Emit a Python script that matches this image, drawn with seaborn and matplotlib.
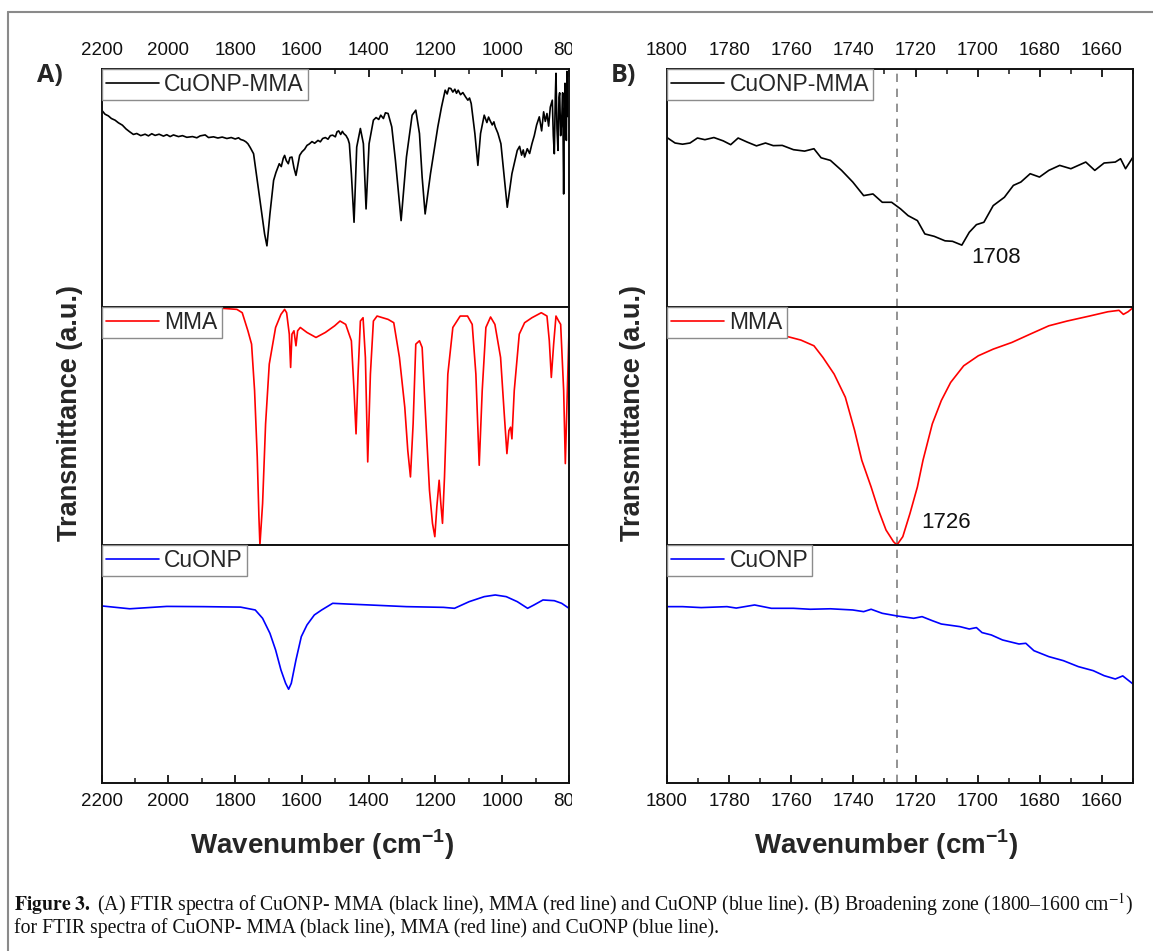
import matplotlib
matplotlib.use("Agg")
import matplotlib.pyplot as plt
import seaborn as sns
import pandas as pd
from matplotlib.ticker import MultipleLocator
from matplotlib.transforms import Bbox, TransformedBbox
from matplotlib.lines import Line2D

# ---------------- data ----------------
A_black_wn = [2200, 2190, 2180, 2171, 2160, 2150, 2138, 2127, 2116, 2105, 2095, 2083, 2070, 2060, 2050, 2040,
              2028, 2015, 2005, 1995, 1985, 1970, 1958, 1945, 1928, 1915, 1905, 1890, 1880, 1865, 1852, 1839,
              1825, 1812, 1800, 1790, 1784, 1775, 1768, 1762, 1755, 1745, 1734, 1723, 1712, 1705, 1696, 1690,
              1685, 1678, 1672, 1668, 1662, 1656, 1652, 1647, 1641, 1636, 1630, 1624, 1618, 1612, 1607, 1600,
              1592, 1585, 1578, 1570, 1562, 1552, 1545, 1538, 1530, 1522, 1515, 1508, 1500, 1495, 1490, 1484,
              1479, 1475, 1468, 1462, 1458, 1452, 1444, 1436, 1425, 1416, 1408, 1399, 1386, 1378, 1370, 1364,
              1356, 1350, 1342, 1331, 1320, 1303, 1287, 1270, 1259, 1248, 1240, 1231, 1215, 1193, 1182, 1171,
              1165, 1160, 1154, 1148, 1142, 1137, 1132, 1125, 1118, 1110, 1103, 1098, 1093, 1082, 1073, 1065,
              1054, 1046, 1041, 1037, 1030, 1025, 1021, 1013, 1004, 993, 985, 971, 955, 948, 942, 937, 933,
              925, 918, 911, 904, 897, 889, 882, 876, 871, 866, 861, 856, 850, 847, 844, 841, 839, 836, 833,
              830, 828, 825, 822, 819, 816, 814, 812, 810, 808, 806, 805, 803, 800]
A_black_t = [82.7, 81.0, 80.3, 79.2, 78.5, 77.4, 76.4, 74.8, 73.6, 72.5, 72.9, 72.0, 72.6, 71.9, 72.8, 72.1,
             72.6, 71.8, 72.4, 71.6, 72.3, 71.6, 72.0, 71.3, 71.6, 71.1, 71.9, 72.3, 71.2, 71.5, 71.0, 71.4,
             70.8, 71.2, 70.6, 71.1, 70.4, 70.0, 69.4, 68.6, 67.0, 64.4, 53.2, 41.9, 30.7, 25.7, 39.1, 47.0,
             53.2, 56.5, 58.8, 60.2, 59.0, 62.5, 63.7, 61.5, 60.2, 62.8, 63.0, 58.5, 55.3, 60.0, 63.7, 65.2,
             66.3, 67.9, 68.5, 69.5, 68.8, 70.0, 69.4, 70.8, 71.2, 70.5, 72.0, 72.2, 71.5, 73.6, 74.0, 72.5,
             73.8, 72.9, 72.0, 70.5, 68.6, 56.0, 35.6, 67.2, 75.0, 68.6, 41.2, 68.6, 78.5, 79.6, 78.8, 80.6,
             79.2, 81.6, 81.3, 75.7, 61.6, 36.3, 63.0, 80.6, 82.7, 72.9, 54.6, 39.1, 56.0, 75.7, 84.0, 91.1,
             89.5, 92.0, 91.8, 90.3, 91.5, 89.8, 91.1, 89.2, 90.1, 88.3, 86.9, 87.8, 85.5, 72.9, 59.5, 72.9,
             80.6, 77.5, 79.8, 78.5, 76.5, 77.8, 75.7, 73.0, 68.6, 53.2, 41.9, 56.0, 65.8, 67.5, 63.8, 66.0, 63.0,
             66.5, 64.5, 68.6, 72.0, 76.5, 79.9, 74.0, 82.0, 78.0, 81.3, 76.0, 84.0, 86.9, 72.0, 64.4, 88.0, 98.2,
             75.0, 65.8, 88.0, 90.0, 72.0, 78.0, 90.0, 47.5, 80.0, 94.0, 85.0, 70.0, 99.0, 96.0, 80.0, 86.0]

A_red_wn = [2200, 1900, 1834, 1795, 1779, 1762, 1751, 1742, 1734, 1729, 1726, 1718, 1709, 1698, 1679, 1663,
            1652, 1646, 1638, 1634, 1630, 1624, 1618, 1613, 1605, 1585, 1558, 1530, 1502, 1486, 1469, 1452,
            1444, 1438, 1432, 1425, 1417, 1410, 1403, 1395, 1386, 1375, 1342, 1325, 1308, 1292, 1283, 1275,
            1267, 1259, 1248, 1240, 1231, 1218, 1209, 1202, 1196, 1189, 1184, 1179, 1173, 1163, 1148, 1126,
            1104, 1090, 1079, 1069, 1060, 1049, 1035, 1022, 1005, 994, 986, 980, 975, 971, 964, 949, 933,
            911, 883, 866, 859, 853, 846, 839, 831, 825, 816, 811, 805, 800]
A_red_t = [99.0, 99.0, 99.4, 99.0, 97.6, 90.0, 84.4, 64.9, 37.0, 11.9, 0.0, 17.4, 50.9, 76.0, 91.4, 96.9,
           99.0, 97.6, 88.6, 74.6, 88.6, 90.0, 83.7, 90.0, 91.4, 89.3, 87.2, 89.3, 92.1, 94.1, 92.7, 85.8,
           64.9, 46.7, 71.8, 94.1, 95.5, 78.8, 34.9, 71.8, 94.1, 96.2, 94.8, 93.4, 78.8, 57.9, 39.7, 28.6,
           50.9, 84.4, 85.8, 83.0, 57.9, 23.0, 9.1, 3.5, 16.0, 27.2, 17.4, 9.1, 28.6, 71.8, 91.4, 96.2,
           96.2, 92.7, 71.8, 33.5, 64.9, 91.4, 95.8, 92.7, 78.8, 55.1, 38.4, 48.1, 49.5, 44.6, 64.9, 88.6, 93.4,
           95.5, 97.6, 96.2, 85.8, 70.4, 84.4, 96.2, 94.1, 92.7, 64.9, 34.2, 64.9, 90.0]

A_blue_wn = [2200, 2116, 2005, 1895, 1784, 1740, 1718, 1696, 1679, 1663, 1649, 1640, 1632, 1618, 1602, 1585,
             1563, 1541, 1508, 1464, 1397, 1287, 1176, 1143, 1099, 1054, 1021, 988, 955, 924, 905, 878,
             844, 822, 800]
A_blue_t = [74.4, 73.2, 74.2, 74.1, 73.9, 72.7, 69.2, 62.9, 55.9, 47.5, 41.9, 39.4, 41.9, 51.7, 61.5, 66.4,
            70.6, 72.7, 75.5, 75.2, 74.8, 74.1, 73.8, 73.4, 76.2, 78.3, 79.0, 78.3, 76.2, 73.4, 74.8, 76.9,
            76.6, 75.5, 73.4]

B_black_wn = [1800, 1797.4, 1795, 1792.6, 1790.2, 1787.8, 1784.9, 1781.9, 1779.5, 1777.1, 1774.2, 1771.2,
              1768.3, 1765.8, 1762.9, 1759.3, 1755.7, 1752.7, 1750.4, 1747.4, 1743.8, 1740.2, 1736.7, 1733.7,
              1730.7, 1727.7, 1724.8, 1722.4, 1719.4, 1717.0, 1714.0, 1710.5, 1708.1, 1705.1, 1702.7, 1700.4,
              1698.0, 1695.0, 1691.4, 1688.5, 1686.1, 1683.1, 1680.1, 1677.1, 1673.6, 1670.0, 1665.2, 1662.3,
              1659.3, 1655.7, 1654.0, 1652.4, 1650]
B_black_t = [71.2, 68.9, 68.4, 68.9, 71.0, 70.3, 71.2, 69.8, 68.2, 71.0, 69.3, 67.7, 68.9, 67.8, 67.9, 66.1,
             65.5, 66.5, 62.7, 61.6, 57.4, 52.5, 46.8, 47.5, 44.0, 44.0, 41.2, 38.4, 36.3, 30.7, 29.7, 27.8,
             27.6, 26.0, 31.4, 34.6, 35.6, 42.6, 46.1, 51.1, 52.5, 56.0, 54.6, 57.4, 59.5, 58.1, 60.9, 57.4,
             60.5, 60.9, 62.3, 58.1, 63.0]

B_red_wn = [1800, 1780, 1770, 1760.7, 1756.9, 1752.7, 1749.8, 1746.2, 1742.6, 1739.6, 1737.3, 1734.3, 1731.9,
            1729.5, 1727.1, 1726, 1724.1, 1721.8, 1719.4, 1717.6, 1714.6, 1711.7, 1708.7, 1704.5, 1699.8,
            1695.0, 1689.0, 1683.1, 1677.1, 1671.2, 1664.0, 1658.1, 1654.5, 1653.1, 1651.6, 1650]
B_red_t = [96.0, 93.0, 90.0, 87.4, 86.1, 83.7, 78.8, 71.8, 62.1, 48.1, 35.6, 24.4, 14.6, 6.3, 1.4, 0.0, 3.5,
           13.2, 24.4, 35.6, 50.9, 60.7, 68.3, 75.3, 79.5, 82.3, 85.1, 88.6, 92.1, 94.1, 96.2, 98.0, 98.6,
           96.9, 98.0, 99.7]

B_blue_wn = [1800, 1795, 1789, 1780.7, 1777.7, 1771.8, 1766.4, 1759.3, 1753.9, 1747.4, 1740.2, 1736.7, 1734.3,
             1730.7, 1726, 1720.6, 1717.9, 1714.6, 1711.7, 1705.7, 1702.7, 1700.4, 1698.6, 1695.6, 1692.0,
             1686.7, 1684.5, 1681.9, 1677.1, 1672.4, 1667.6, 1662.8, 1659.3, 1655.7, 1653.3, 1650]
B_blue_t = [74.1, 74.1, 73.7, 74.1, 73.5, 74.8, 73.4, 73.4, 73.0, 73.2, 72.7, 72.0, 73.0, 71.3, 70.2, 69.2,
            69.9, 68.2, 66.8, 65.7, 64.7, 65.3, 63.2, 62.2, 60.1, 58.4, 58.7, 55.6, 53.1, 51.4, 48.9, 47.2,
            45.1, 43.7, 45.0, 41.6]

series_names = ["CuONP-MMA", "MMA", "CuONP"]
series_colors = ["#000000", "#ff0000", "#0000ff"]
peak_line = 1726
peak_labels = ["1708", "1726"]
A_xticks = [2200, 2000, 1800, 1600, 1400, 1200, 1000, 800]
B_xticks = [1800, 1780, 1760, 1740, 1720, 1700, 1680, 1660]

caption1 = (r"$\mathbf{Figure\ 3.}$ (A) FTIR spectra of CuONP- MMA (black line), MMA (red line) and CuONP "
            r"(blue line). (B) Broadening zone (1800–1600 cm$^{-1}$)")
caption2 = "for FTIR spectra of CuONP- MMA (black line), MMA (red line) and CuONP (blue line)."

# ---------------- style ----------------
sns.set_theme(style="ticks")
plt.rcParams["font.family"] = ["Liberation Sans", "DejaVu Sans"]
plt.rcParams["mathtext.fontset"] = "custom"
plt.rcParams["mathtext.rm"] = "Liberation Sans"
plt.rcParams["mathtext.bf"] = "Liberation Sans:bold"
plt.rcParams["axes.linewidth"] = 1.4
plt.rcParams["axes.edgecolor"] = "#111111"

W, H = 1153, 951
fig = plt.figure(figsize=(W / 100, H / 100), dpi=100)
fig.patch.set_facecolor("white")


def fx(px):
    return px / W


def fy(py):
    return 1 - py / H


def make_panel(left, right, xlim, minor, xticks, data):
    top, bottom = 69, 783
    h = (bottom - top) / 3
    axes = []
    for i in range(3):
        y_top = top + i * h
        ax = fig.add_axes([fx(left), fy(y_top + h), fx(right - left), h / H])
        wn, t = data[i]
        df = pd.DataFrame({"wn": wn, "t": t})
        sns.lineplot(data=df, x="wn", y="t", ax=ax, color=series_colors[i], lw=1.2,
                     sort=False, estimator=None, label=series_names[i])
        ax.set_xlim(*xlim)
        ax.set_ylim(0, 100)
        ax.set_xlabel("")
        ax.set_ylabel("")
        ax.set_yticks([])
        ax.tick_params(axis="y", left=False, labelleft=False)
        ax.set_xticks(xticks)
        ax.xaxis.set_minor_locator(MultipleLocator(minor))
        ax.tick_params(axis="x", which="major", direction="in", length=6, width=1.3,
                       labelsize=13.5, pad=7, colors="#111111")
        ax.tick_params(axis="x", which="minor", direction="in", length=3.5, width=1.2)
        if i == 0:
            ax.tick_params(axis="x", which="both", top=True, bottom=False, labeltop=True, labelbottom=False)
        elif i == 2:
            ax.tick_params(axis="x", which="both", top=False, bottom=True, labeltop=False, labelbottom=True)
        else:
            ax.tick_params(axis="x", which="both", top=False, bottom=False, labeltop=False, labelbottom=False)
        for s in ax.spines.values():
            s.set_visible(True)
            s.set_linewidth(1.4)
            s.set_color("#111111")
        leg = ax.legend(loc="upper left", bbox_to_anchor=(0, 1), borderaxespad=0, fontsize=16.5,
                        handlelength=2.3, handletextpad=0.25, borderpad=0.18, fancybox=False,
                        framealpha=1, edgecolor="#8c8c8c", frameon=True)
        leg.get_frame().set_linewidth(1.0)
        axes.append(ax)
    return axes


axA = make_panel(101.7, 569, (2200, 800), 100, A_xticks,
                 [(A_black_wn, A_black_t), (A_red_wn, A_red_t), (A_blue_wn, A_blue_t)])
axB = make_panel(667, 1133, (1800, 1650), 10, B_xticks,
                 [(B_black_wn, B_black_t), (B_red_wn, B_red_t), (B_blue_wn, B_blue_t)])

# dashed marker line in panel B
for ax in axB:
    ax.axvline(peak_line, color="#808080", lw=1.2, ls=(0, (5, 4)), zorder=1)

axB[0].text(1694, 20.7, peak_labels[0], fontsize=16, ha="center", va="center", color="#111111")
axB[1].text(1710.2, 9.6, peak_labels[1], fontsize=16, ha="center", va="center", color="#111111")

# clip the "800" label of panel A like in the reference
clip = TransformedBbox(Bbox([[0, 0], [fx(571.5), 1]]), fig.transFigure)
for ax in (axA[0], axA[2]):
    for tk in ax.xaxis.get_major_ticks():
        for lbl in (tk.label1, tk.label2):
            lbl.set_clip_box(clip)
            lbl.set_clip_on(True)

# panel letters and axis labels
fig.text(fx(50), fy(75), "A)", fontsize=18, fontweight="bold", family="Open Sans", ha="center", va="center")
fig.text(fx(623), fy(75), "B)", fontsize=18, fontweight="bold", family="Open Sans", ha="center", va="center")
for xc in (70, 633):
    fig.text(fx(xc), fy(413), "Transmittance (a.u.)", rotation=90, fontsize=19.5, fontweight="bold",
             ha="center", va="center")
for xc in (322, 886):
    fig.text(fx(xc), fy(845), r"Wavenumber (cm$^{\mathbf{-1}}$)", fontsize=20, fontweight="bold",
             ha="center", va="center")

# frame
fig.add_artist(Line2D([fx(8), fx(8)], [fy(12), 0], color="#8a8a8a", lw=1.5))
fig.add_artist(Line2D([fx(8), 1], [fy(12), fy(12)], color="#8a8a8a", lw=1.5))

# caption
c1 = fig.text(fx(14), fy(905), caption1, fontsize=12, family="Liberation Serif", math_fontfamily="stix",
              ha="left", va="center", color="#111111")
c2 = fig.text(fx(14), fy(928), caption2, fontsize=12, family="Liberation Serif", math_fontfamily="stix",
              ha="left", va="center", color="#111111")
fig.canvas.draw()
r = fig.canvas.get_renderer()
wc = c1.get_window_extent(r).width
fs = 12 * 1120 / wc
c1.set_fontsize(fs)
c2.set_fontsize(fs)

fig.savefig("out.png", dpi=100, facecolor="white")
